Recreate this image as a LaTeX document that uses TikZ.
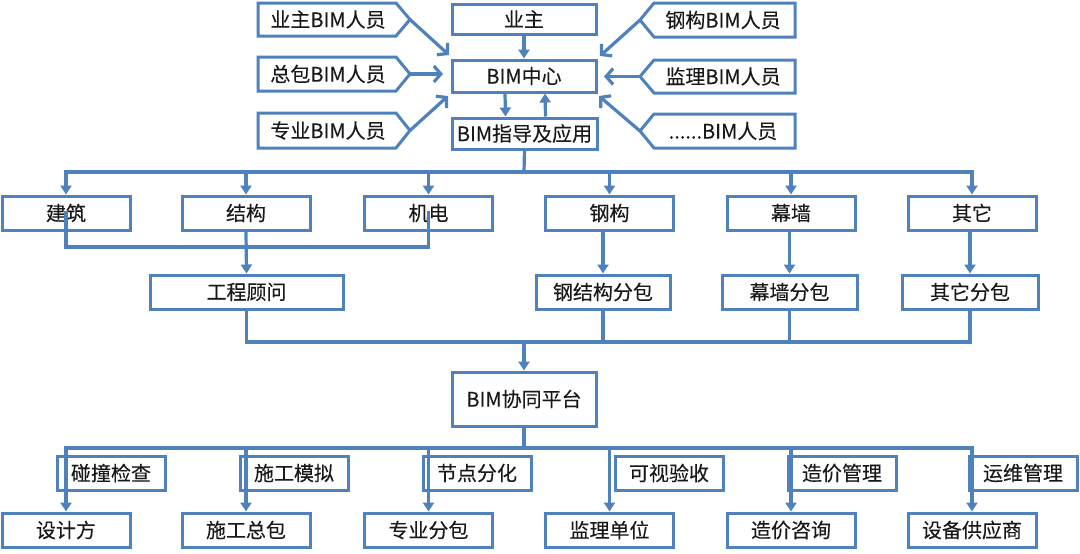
\documentclass[tikz,border=0pt]{standalone}
\usepackage{fontspec}
\setmainfont{Noto Sans CJK SC}[FakeBold=0.15]
\usetikzlibrary{arrows.meta,calc}
\definecolor{bl}{RGB}{79,129,189}
\definecolor{tx}{RGB}{25,25,25}
\begin{document}
\begin{tikzpicture}[x=1pt,y=-1pt,
 fnt/.style={font=\fontsize{20}{23}\selectfont},
 box/.style={draw=bl,line width=3pt,fill=white,inner sep=0pt,text=tx,fnt},
 sz/.style 2 args={minimum width=#1pt,minimum height=#2pt},
 txt/.style={inner sep=0pt,text=tx,fnt},
 shp/.style={draw=bl,line width=3pt,fill=white,line join=miter},
 ln/.style={draw=bl,line width=3.2pt,line cap=rect},
 arr/.style={draw=bl,line width=3.2pt,-{Triangle[length=9pt,width=11pt]}},
 barb/.style={draw=bl,line width=3.2pt,-{Straight Barb[length=7pt,width=16pt]}}]
\useasboundingbox[fill=white] (0,0) rectangle (1080,554);

% --- top pentagons (left, pointing right)
\draw[shp] (258,3) -- (396,3) -- (410,19.5) -- (396,36) -- (258,36) -- cycle;
\node[txt] (ubim) at (328,19.5) {业主BIM人员};
\draw[shp] (258,57) -- (396,57) -- (410,74) -- (396,91) -- (258,91) -- cycle;
\node[txt] (zbim) at (328,74) {总包BIM人员};
\draw[shp] (258,113) -- (396,113) -- (410,130.5) -- (396,148) -- (258,148) -- cycle;
\node[txt] (sbim) at (328,130.5) {专业BIM人员};
% --- top pentagons (right, pointing left)
\draw[shp] (795,3) -- (654,3) -- (640,20) -- (654,37) -- (795,37) -- cycle;
\node[txt] (gbim) at (723,20) {钢构BIM人员};
\draw[shp] (795,60) -- (654,60) -- (640,76.5) -- (654,93) -- (795,93) -- cycle;
\node[txt] (jbim) at (723,76.5) {监理BIM人员};
\draw[shp] (795,114) -- (654,114) -- (640,131) -- (654,148) -- (795,148) -- cycle;
\node[txt] (obim) at (723,131) {......BIM人员};

% --- centre column
\node[box,sz={144}{30}] (yz) at (524,19) {业主};
\node[box,sz={144}{32}] (zx) at (524,76) {BIM中心};
\node[box,sz={145}{31}] (zd) at (524.5,133.5) {BIM指导及应用};

% --- row 2
\node[box,sz={128}{34}] (jz) at (66,213) {建筑};
\node[box,sz={128}{34}] (jg) at (246,213) {结构};
\node[box,sz={128}{34}] (jd) at (428.5,213) {机电};
\node[box,sz={128}{34}] (gg) at (609.5,213) {钢构};
\node[box,sz={128}{34}] (mq) at (791,213) {幕墙};
\node[box,sz={128}{34}] (qt) at (972,213) {其它};

% --- row 3
\node[box,sz={193}{34}] (gw) at (246.5,292) {工程顾问};
\node[box,sz={134}{34}] (gf) at (603,292) {钢结构分包};
\node[box,sz={135}{34}] (mf) at (789.5,292) {幕墙分包};
\node[box,sz={136}{34}] (qf) at (970,292) {其它分包};

% --- platform
\node[box,sz={144}{54}] (xt) at (524,399) {BIM协同平台};

% --- labels
\node[box,sz={108}{34}] (l1) at (111,473) {碰撞检查};
\node[box,sz={108}{34}] (l2) at (294,473) {施工模拟};
\node[box,sz={108}{34}] (l3) at (477,473) {节点分化};
\node[box,sz={108}{34}] (l4) at (669,473) {可视验收};
\node[box,sz={108}{34}] (l5) at (842,473) {造价管理};
\node[box,sz={108}{34}] (l6) at (1023,473) {运维管理};

% --- bottom row
\node[box,sz={128}{34}] (sj) at (66,530) {设计方};
\node[box,sz={128}{34}] (sz) at (246,530) {施工总包};
\node[box,sz={128}{34}] (zf) at (428.5,530) {专业分包};
\node[box,sz={128}{34}] (jl) at (609.5,530) {监理单位};
\node[box,sz={128}{34}] (zj) at (791,530) {造价咨询};
\node[box,sz={128}{34}] (sb) at (972,530) {设备供应商};

% --- top connectors
\coordinate (ubT) at (410,19.5);  \coordinate (ubE) at (449,55);
\coordinate (zbT) at (410,74);    \coordinate (zbE) at (443,74);
\coordinate (sbT) at (410,130.5); \coordinate (sbE) at (448,96);
\coordinate (gbT) at (640,20);    \coordinate (gbE) at (600,56);
\coordinate (jbT) at (640,76.5);  \coordinate (jbE) at (604,76.5);
\coordinate (obT) at (640,131);   \coordinate (obE) at (599,96);
\draw[barb] (ubT) -- (ubE);
\draw[barb] (zbT) -- (zbE);
\draw[barb] (sbT) -- (sbE);
\draw[barb] (gbT) -- (gbE);
\draw[barb] (jbT) -- (jbE);
\draw[barb] (obT) -- (obE);
\draw[arr] (yz.south) -- (zx.north);
\draw[arr] ([xshift=-19pt]zx.south) -- ([xshift=-19pt]zd.north);
\draw[arr] ([xshift=21pt]zd.north) -- ([xshift=21pt]zx.south);

% --- bus 1
\coordinate (b1) at (524,172);
\draw[ln] (zd.south) -- (b1);
\draw[ln] (jz.north |- b1) -- (qt.north |- b1);
\foreach \n in {jz,jg,jd,gg,mq,qt} \draw[arr] (\n.north |- b1) -- (\n.north);

% --- row 2 to row 3
\coordinate (m1) at (246,247);
\draw[ln] (jz.center) -- (jz.center |- m1) -- (jd.center |- m1) -- (jd.center);
\draw[arr] (jg.south) -- (gw.north);
\draw[arr] (gf.north |- gg.south) -- (gf.north);
\draw[arr] (mf.north |- mq.south) -- (mf.north);
\draw[arr] (qf.north |- qt.south) -- (qf.north);

% --- bus 2
\coordinate (b2) at (524,342);
\draw[ln] (gw.south) -- (gw.south |- b2) -- (qf.south |- b2) -- (qf.south);
\draw[ln] (gf.south) -- (gf.south |- b2);
\draw[ln] (mf.south) -- (mf.south |- b2);
\draw[arr] (b2) -- (xt.north);

% --- bus 3
\coordinate (b3) at (524,448);
\draw[ln] (xt.south) -- (b3);
\draw[ln] (sj.north |- b3) -- (sb.north |- b3);
\foreach \n in {sj,sz,zf,jl,zj,sb} \draw[arr] (\n.north |- b3) -- (\n.north);
\end{tikzpicture}
\end{document}
